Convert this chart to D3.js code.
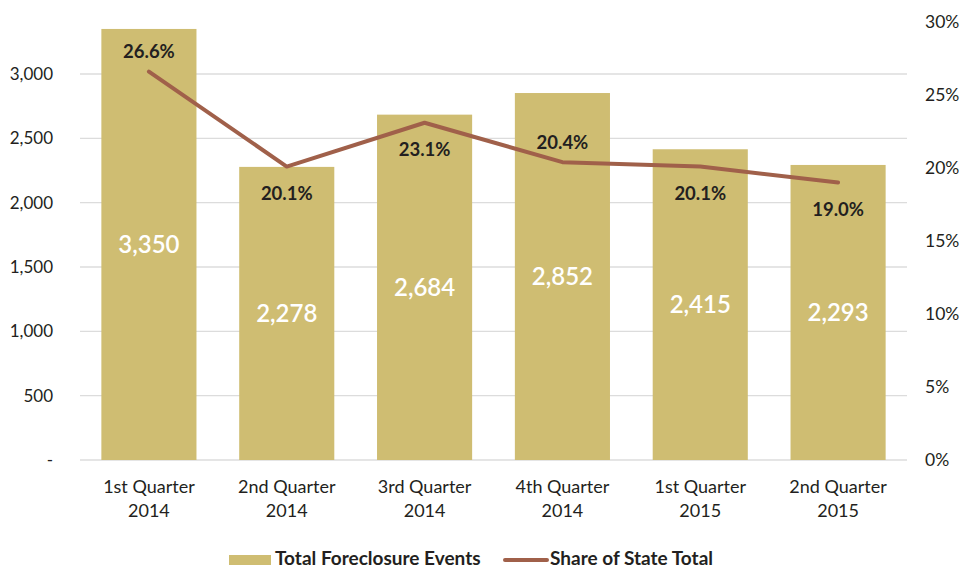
<!DOCTYPE html>
<html lang="en">
<head>
    <meta charset="UTF-8">
    <title>Foreclosure Events</title>
    <script src="https://cdnjs.cloudflare.com/ajax/libs/d3/7.8.5/d3.min.js"></script>
    <style>
        body { margin: 0; background: #fff; }
        svg { font-family: Lato, "Open Sans", sans-serif; }
    </style>
</head>
<body>
    <div id="wrapper"></div>
    <script>
        // data
        const quarters = ['1st Quarter', '2nd Quarter', '3rd Quarter', '4th Quarter', '1st Quarter', '2nd Quarter']
        const years = ['2014', '2014', '2014', '2014', '2015', '2015']
        const events = [3350, 2278, 2684, 2852, 2415, 2293]
        const shares = [0.266, 0.201, 0.231, 0.204, 0.201, 0.190]
        const shareLabelSide = ['above', 'below', 'below', 'above', 'below', 'below']
        const leftTicks = [0, 500, 1000, 1500, 2000, 2500, 3000]
        const rightTicks = [0, 0.05, 0.10, 0.15, 0.20, 0.25, 0.30]

        const barColor = '#cfbd72'
        const lineColor = '#a0604a'

        const dimensions = {
            width: 964,
            height: 569,
            margin: { top: 22, right: 57, bottom: 109, left: 80 }
        }
        dimensions.boundedWidth = dimensions.width - dimensions.margin.left - dimensions.margin.right
        dimensions.boundedHeight = dimensions.height - dimensions.margin.top - dimensions.margin.bottom

        const svg = d3.select('#wrapper')
            .append('svg')
                .attr('width', dimensions.width)
                .attr('height', dimensions.height)

        const bounds = svg.append('g')
            .attr('transform', `translate(${dimensions.margin.left},${dimensions.margin.top})`)

        const idx = d3.range(events.length)

        const xScale = d3.scaleBand()
            .domain(idx)
            .range([0, dimensions.boundedWidth])
            .paddingInner(0.31)
            .paddingOuter(0.155)

        const yScale = d3.scaleLinear()
            .domain([0, 3404])
            .range([dimensions.boundedHeight, 0])

        const y2Scale = d3.scaleLinear()
            .domain([0, 0.30])
            .range([dimensions.boundedHeight, 0])

        // gridlines
        bounds.append('g')
            .selectAll('line')
            .data(leftTicks)
            .enter().append('line')
                .attr('x1', 0)
                .attr('x2', dimensions.boundedWidth)
                .attr('y1', d => yScale(d))
                .attr('y2', d => yScale(d))
                .attr('stroke', '#dcdcdc')
                .attr('stroke-width', 1.3)

        // bars
        bounds.append('g')
            .selectAll('rect')
            .data(idx)
            .enter().append('rect')
                .attr('x', i => xScale(i))
                .attr('y', i => yScale(events[i]))
                .attr('width', xScale.bandwidth())
                .attr('height', i => dimensions.boundedHeight - yScale(events[i]))
                .attr('fill', barColor)

        // bar value labels
        bounds.append('g')
            .selectAll('text')
            .data(idx)
            .enter().append('text')
                .attr('x', i => xScale(i) + xScale.bandwidth() / 2)
                .attr('y', i => (yScale(events[i]) + dimensions.boundedHeight) / 2)
                .attr('dy', '0.35em')
                .attr('text-anchor', 'middle')
                .attr('fill', '#fff')
                .style('font-size', '24px')
                .style('font-weight', 600)
                .text(i => d3.format(',')(events[i]))

        // share line
        const lineGenerator = d3.line()
            .x(i => xScale(i) + xScale.bandwidth() / 2)
            .y(i => y2Scale(shares[i]))

        bounds.append('path')
            .attr('d', lineGenerator(idx))
            .attr('fill', 'none')
            .attr('stroke', lineColor)
            .attr('stroke-width', 4)
            .attr('stroke-linejoin', 'round')
            .attr('stroke-linecap', 'round')

        bounds.append('g')
            .selectAll('text')
            .data(idx)
            .enter().append('text')
                .attr('x', i => xScale(i) + xScale.bandwidth() / 2)
                .attr('y', i => y2Scale(shares[i]) + (shareLabelSide[i] === 'above' ? -20 : 27))
                .attr('dy', '0.35em')
                .attr('text-anchor', 'middle')
                .attr('fill', '#231f20')
                .style('font-size', '18.5px')
                .style('font-weight', 700)
                .text(i => d3.format('.1%')(shares[i]))

        // left axis
        const yAxis = bounds.append('g')
            .call(d3.axisLeft(yScale)
                .tickValues(leftTicks)
                .tickSize(0)
                .tickPadding(27)
                .tickFormat(d => d === 0 ? '-' : d3.format(',')(d)))
        yAxis.select('.domain').remove()
        yAxis.selectAll('text')
            .attr('fill', '#231f20')
            .style('font-size', '17px')
            .style('font-family', 'Lato, "Open Sans", sans-serif')

        // right axis
        const y2Axis = bounds.append('g')
            .attr('transform', `translate(${dimensions.boundedWidth},0)`)
            .call(d3.axisRight(y2Scale)
                .tickValues(rightTicks)
                .tickSize(0)
                .tickPadding(18)
                .tickFormat(d3.format('.0%')))
        y2Axis.select('.domain').remove()
        y2Axis.selectAll('text')
            .attr('fill', '#231f20')
            .style('font-size', '17.5px')
            .style('font-family', 'Lato, "Open Sans", sans-serif')

        // x axis labels (two lines)
        const xLabels = bounds.append('g')
            .attr('transform', `translate(0,${dimensions.boundedHeight})`)
            .selectAll('text')
            .data(idx)
            .enter().append('text')
                .attr('x', i => xScale(i) + xScale.bandwidth() / 2)
                .attr('y', 33)
                .attr('text-anchor', 'middle')
                .attr('fill', '#231f20')
                .style('font-size', '18px')
        xLabels.append('tspan')
            .attr('x', i => xScale(i) + xScale.bandwidth() / 2)
            .text(i => quarters[i])
        xLabels.append('tspan')
            .attr('x', i => xScale(i) + xScale.bandwidth() / 2)
            .attr('dy', 23.5)
            .text(i => years[i])

        // legend
        const legend = svg.append('g')
            .attr('transform', 'translate(0,558)')
        legend.append('rect')
            .attr('x', 229)
            .attr('y', -3)
            .attr('width', 42)
            .attr('height', 10)
            .attr('fill', barColor)
        legend.append('text')
            .attr('x', 275)
            .attr('dy', '0.35em')
            .attr('fill', '#231f20')
            .style('font-size', '19px')
            .style('font-weight', 700)
            .text('Total Foreclosure Events')
        legend.append('line')
            .attr('x1', 505)
            .attr('x2', 547)
            .attr('y1', 2)
            .attr('y2', 2)
            .attr('stroke', lineColor)
            .attr('stroke-width', 4)
            .attr('stroke-linecap', 'round')
        legend.append('text')
            .attr('x', 550)
            .attr('dy', '0.35em')
            .attr('fill', '#231f20')
            .style('font-size', '19px')
            .style('font-weight', 700)
            .text('Share of State Total')
    </script>
</body>
</html>
